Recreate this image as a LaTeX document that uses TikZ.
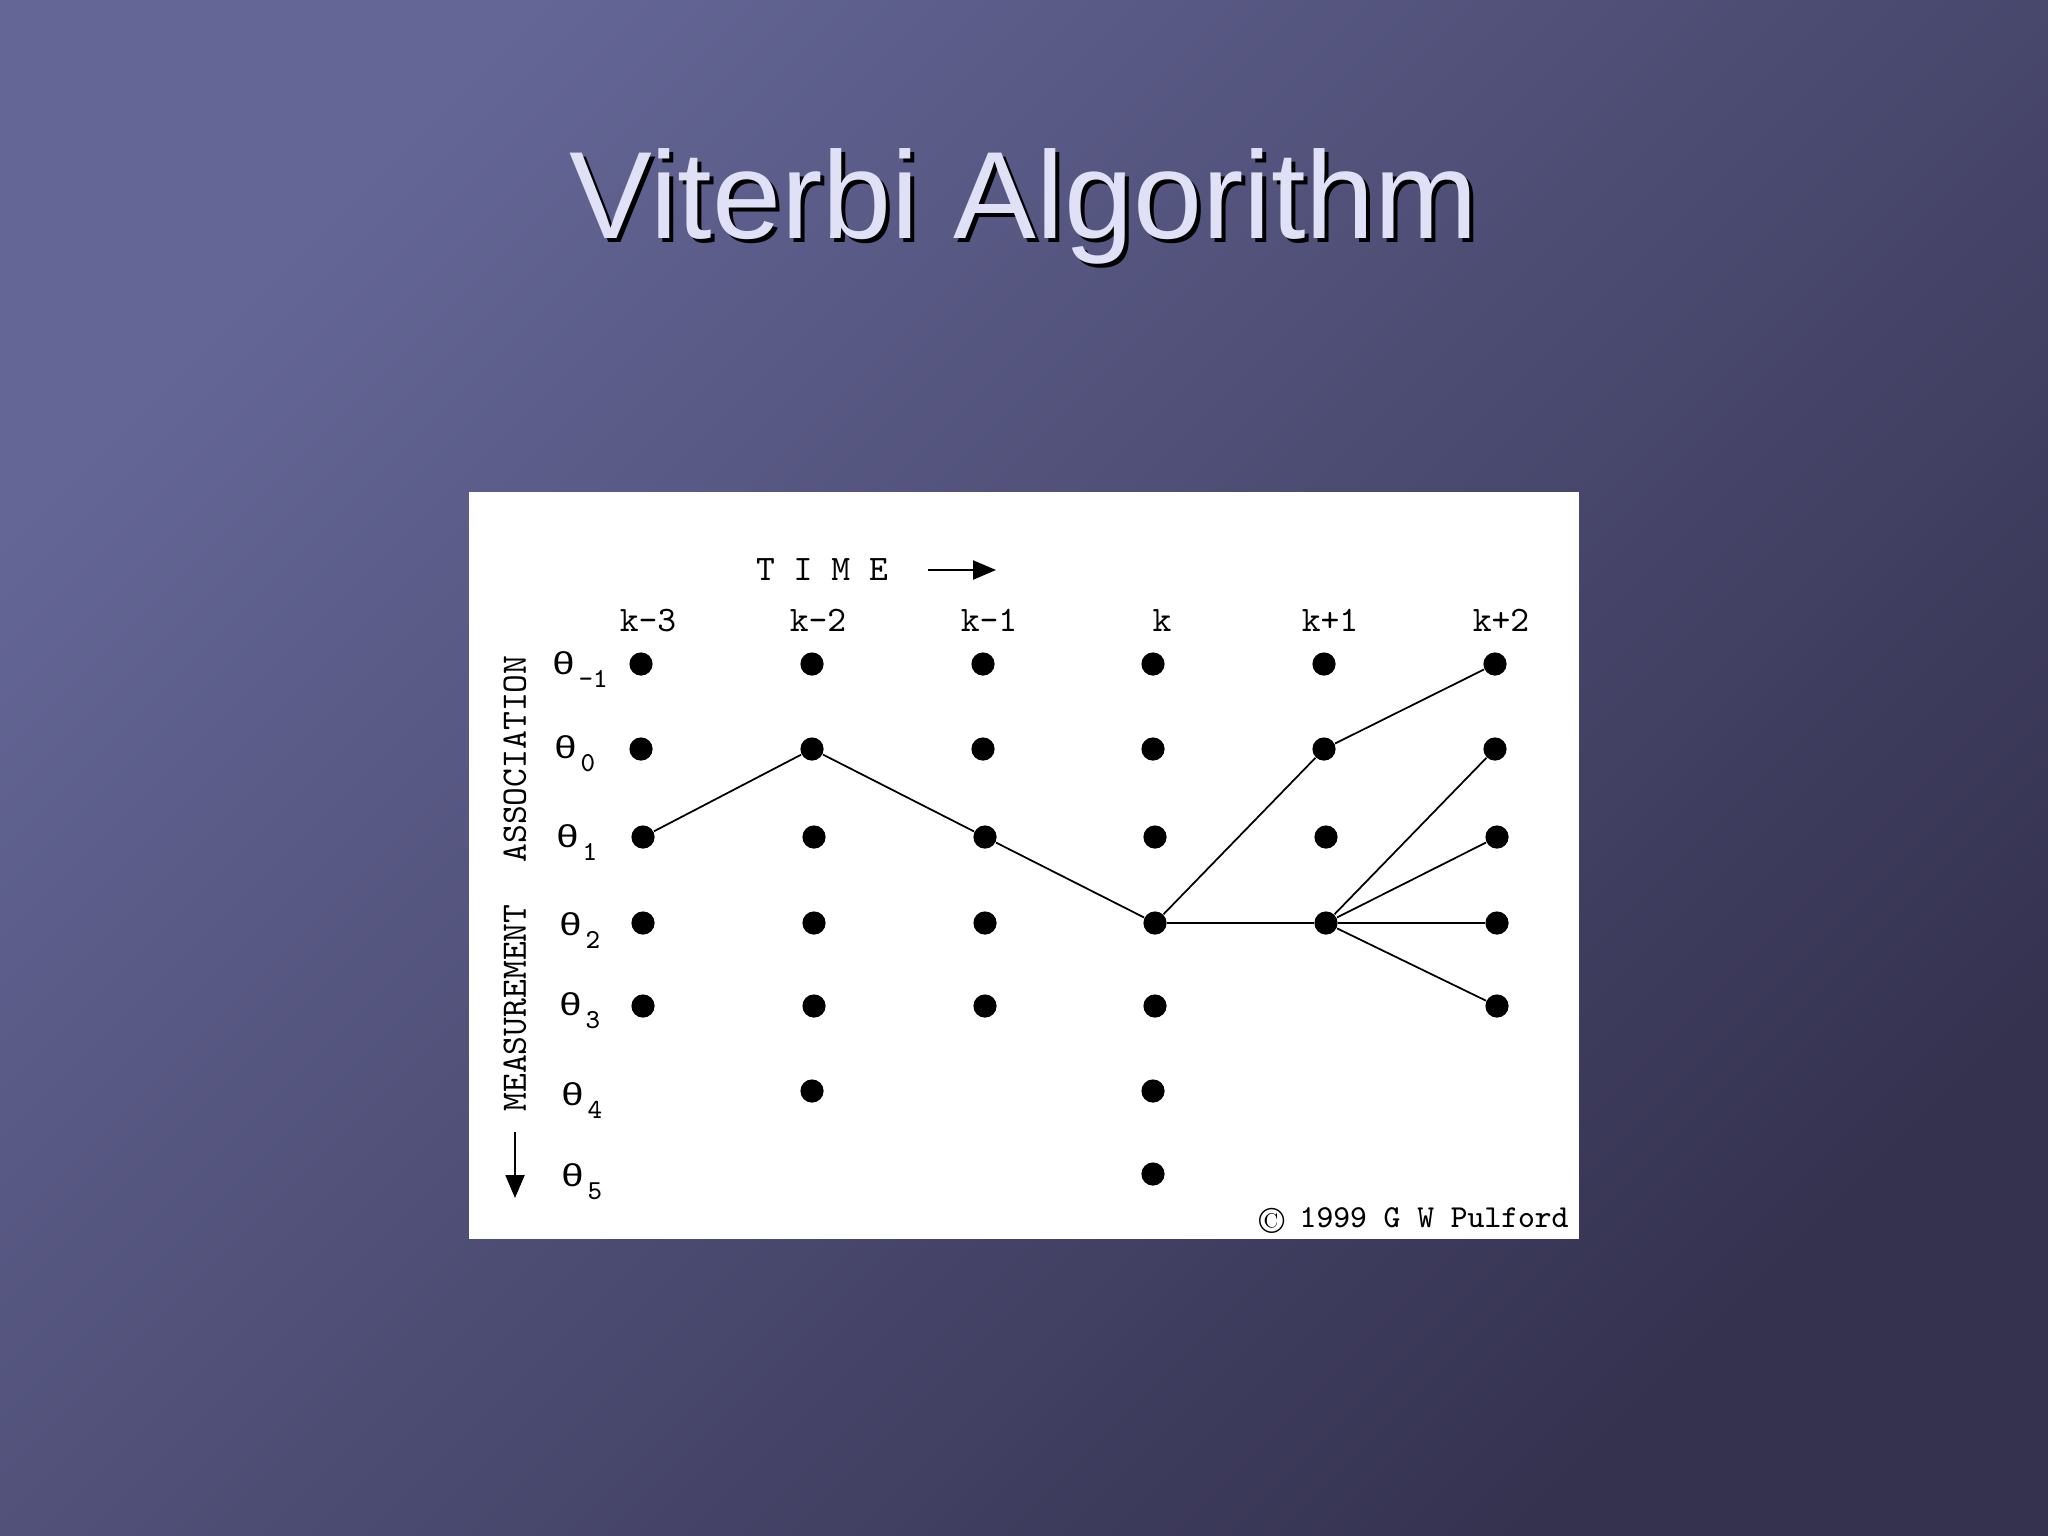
\documentclass[tikz,border=0pt]{standalone}
\usepackage{fontspec}
\usepackage{graphicx}
\usetikzlibrary{arrows.meta}
\newfontfamily\titlefont{Liberation Sans}
\newfontfamily\thfont{Liberation Mono}
\definecolor{bgA}{RGB}{100,102,150}
\definecolor{bgB}{RGB}{53,50,80}
\definecolor{titlecol}{RGB}{224,224,246}
\newcommand\thsym{\scalebox{1.25}[1]{\thfont\fontsize{9pt}{10pt}\selectfont θ}}
\newcommand\thsub[1]{\hspace{0.9pt}\raisebox{-3.8pt}{\ttfamily\fontsize{7.8pt}{8pt}\selectfont #1}}
\tikzset{
  dot/.style={circle, fill=black, inner sep=0pt, minimum size=6.6pt},
  link/.style={draw=black, line width=0.5pt},
  lab/.style={font=\ttfamily\fontsize{10.2pt}{12pt}\selectfont, inner sep=0pt, text=black},
  copylab/.style={font=\ttfamily\fontsize{9.1pt}{11pt}\selectfont, inner sep=0pt, text=black},
  thl/.style={inner sep=0pt, text=black, anchor=base west},
  arr/.style={draw=black, line width=0.55pt, -{Triangle[length=6.5pt,width=5.4pt]}},
  titletext/.style={font=\titlefont\fontsize{35.3pt}{40pt}\selectfont, inner sep=0pt, anchor=base}
}
\begin{document}
\begin{tikzpicture}[x=0.01cm, y=-0.01cm]
\useasboundingbox (0,0) rectangle (2048,1536);
\shade[shading=axis, top color=bgA, bottom color=bgB, shading angle=45] (0,0) rectangle (2048,1536);
% title
\node[titletext, text=black] (titleshadow) at (1028,242) {Viterbi Algorithm};
\node[titletext, text=titlecol] (title) at (1024,238) {Viterbi Algorithm};
% white panel
\fill[white] (469,492) rectangle (1579,1239);
% dots
\foreach \c/\x in {1/641,2/812,3/983,4/1153,5/1324,6/1495}{
  \node[dot] (d\c0) at (\x,664) {};
  \node[dot] (d\c1) at (\x,749) {};
  \node[dot] (d\c2) at (\x+2,837) {};
  \node[dot] (d\c3) at (\x+2,923) {};
}
\foreach \c/\x in {1/641,2/812,3/983,4/1153,6/1495}{
  \node[dot] (d\c4) at (\x+2,1006) {};
}
\node[dot] (d25) at (812,1091) {};
\node[dot] (d45) at (1153,1091) {};
\node[dot] (d46) at (1153,1174) {};
% connectors
\draw[link] (d12) -- (d21);
\draw[link] (d21) -- (d32);
\draw[link] (d32) -- (d43);
\draw[link] (d43) -- (d51);
\draw[link] (d43) -- (d53);
\draw[link] (d51) -- (d60);
\draw[link] (d53) -- (d61);
\draw[link] (d53) -- (d62);
\draw[link] (d53) -- (d63);
\draw[link] (d53) -- (d64);
% column labels
\node[lab, anchor=base] (k1) at (648,631) {k-3};
\node[lab, anchor=base] (k2) at (818,631) {k-2};
\node[lab, anchor=base] (k3) at (989,631) {k-1};
\node[lab, anchor=base] (k4) at (1162,631) {k};
\node[lab, anchor=base] (k5) at (1330,631) {k+1};
\node[lab, anchor=base] (k6) at (1501,631) {k+2};
% time
\node[lab, anchor=base] (time) at (822,580) {T I M E};
\coordinate (ta) at (928,570);
\coordinate (tb) at (996,570);
\draw[arr] (ta) -- (tb);
% vertical labels
\node[lab, rotate=90] (assoc) at (515,759) {ASSOCIATION};
\node[lab, rotate=90] (meas) at (515,1008) {MEASUREMENT};
\coordinate (ma) at (515,1132);
\coordinate (mb) at (515,1198);
\draw[arr] (ma) -- (mb);
% theta labels
\node[thl] (t0) at (551,674) {\thsym\thsub{-1}};
\node[thl] (t1) at (553,758) {\thsym\thsub{0}};
\node[thl] (t2) at (555,847) {\thsym\thsub{1}};
\node[thl] (t3) at (558,935) {\thsym\thsub{2}};
\node[thl] (t4) at (558,1015) {\thsym\thsub{3}};
\node[thl] (t5) at (560,1105) {\thsym\thsub{4}};
\node[thl] (t6) at (560,1186) {\thsym\thsub{5}};
% copyright
\node[inner sep=0pt, font=\rmfamily\fontsize{10.5pt}{12pt}\selectfont] (cpy) at (1272,1221) {\textcopyright};
\node[copylab, anchor=base west] (pulf) at (1299,1227) {1999 G W Pulford};
\end{tikzpicture}
\end{document}
